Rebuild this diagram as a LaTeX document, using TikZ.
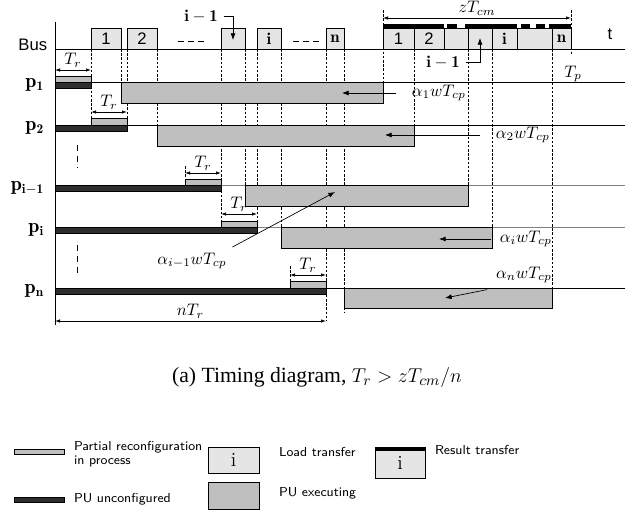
\documentclass[tikz,border=0pt]{standalone}
\usepackage{fontspec}
\newfontfamily\helv{Liberation Sans}
\newfontfamily\tms{Liberation Serif}
\usetikzlibrary{arrows.meta}
\definecolor{busgray}{gray}{0.9}
\definecolor{exegray}{gray}{0.75}
\definecolor{unconf}{gray}{0.18}
\begin{document}
\begin{tikzpicture}[x=0.6pt,y=-0.6pt,>={Latex[length=4pt,width=3pt]},
  busbox/.style={draw,fill=busgray},
  exebox/.style={draw,fill=exegray},
  partbox/.style={draw,fill=exegray},
  offbar/.style={draw,fill=unconf},
  guide/.style={dash pattern=on 1.5pt off 1pt},
  dim/.style={<->,>={Latex[length=3pt,width=2pt]}},
  plbl/.style={anchor=base east,font=\large},
  lbl/.style={font=\fontsize{7.8}{8.6}\selectfont\sffamily,align=left,anchor=west,inner sep=1pt}]
\useasboundingbox (0,0) rectangle (640,516);
\draw[guide] (91,49) -- (91,118);
\draw[guide] (121,49) -- (121,82);
\draw[guide] (127,49) -- (127,118);
\draw[guide] (157,49) -- (157,125);
\draw[guide] (221,49) -- (221,221);
\draw[guide] (245,49) -- (245,185);
\draw[guide] (257,49) -- (257,221);
\draw[guide] (281,49) -- (281,227);
\draw[guide] (326,49) -- (326,321);
\draw[guide] (344,49) -- (344,312);
\draw[guide] (185,166) -- (185,179);
\draw[guide] (290,266) -- (290,281);
\draw[guide] (383,10) -- (383,82);
\draw[guide] (414,49) -- (414,125);
\draw[guide] (468,49) -- (468,185);
\draw[guide] (492,49) -- (492,227);
\draw[guide] (552,49) -- (552,288);
\draw[guide] (571,10) -- (571,55);
\draw (55,22) -- (55,325);
\draw (55,49) -- (625,49);
\node[anchor=east] (bus) at (53,45) {\helv Bus};
\node (tlbl) at (610,34) {\helv t};
\draw[busbox] (91,28) rectangle (121,49) node[midway] (ld1) {\helv 1};
\draw[busbox] (127,28) rectangle (157,49) node[midway] (ld2) {\helv 2};
\draw[dash pattern=on 3.6pt off 2.4pt] (178,41) -- (204,41);
\draw[busbox] (221,28) rectangle (245,49);
\draw[busbox] (257,28) rectangle (281,49) node[midway] (ldi) {$\mathbf{i}$};
\draw[dash pattern=on 3.6pt off 2.4pt] (293,41) -- (319,41);
\draw[busbox] (326,28) rectangle (344,49) node[midway] (ldn) {$\mathbf{n}$};
\draw[busbox] (383,28) rectangle (414,49) node[midway] (rs1) {\helv 1};
\draw[busbox] (414,28) rectangle (444,49) node[midway] (rs2) {\helv 2};
\draw[busbox] (444,28) rectangle (468,49);
\draw[busbox] (468,28) rectangle (492,49);
\draw[busbox] (492,28) rectangle (517,49) node[midway] (rsi) {$\mathbf{i}$};
\draw[busbox] (517,28) rectangle (552,49);
\draw[busbox] (552,28) rectangle (571,49) node[midway] (rsn) {$\mathbf{n}$};
\fill (383,24) rectangle (444,28);
\fill (447,24) rectangle (457,28);
\fill (465,24) rectangle (517,28);
\fill (521,24) rectangle (530,28);
\fill (536,24) rectangle (545,28);
\fill (549,24) rectangle (571,28);
\node (topim1) at (201,16) {$\mathbf{i-1}$};
\draw[->] (topim1.east) -| (233,40);
\node (botim1) at (443,62) {$\mathbf{i-1}$};
\draw[->] (botim1.east) -| (480,38);
\draw[dim] (383,18) -- (571,18) node[midway,above=-2pt] (zt) {$zT_{cm}$};
\node (tp) at (573,74) {$T_p$};
\draw (55,82) -- (625,82);
\draw (55,125) -- (625,125);
\draw[gray] (55,185) -- (625,185);
\draw[gray] (55,227) -- (625,227);
\draw (55,288) -- (625,288);
\node[plbl] (p1) at (50,87) {$\mathbf{p_1}$};
\node[plbl] (p2) at (50,130) {$\mathbf{p_2}$};
\node[plbl] (pim1) at (50,190) {$\mathbf{p_{i-1}}$};
\node[plbl] (pi) at (50,232) {$\mathbf{p_i}$};
\node[plbl] (pn) at (50,293) {$\mathbf{p_n}$};
\draw[partbox] (55,76) rectangle (91,82);
\draw[offbar] (55,82) rectangle (91,88);
\draw[exebox] (121,82) rectangle (383,103);
\draw[dim] (55,70) -- (91,70) node[midway,above=-2pt] (tr1) {$T_r$};
\draw[partbox] (91,118) rectangle (127,125);
\draw[offbar] (55,125) rectangle (127,131);
\draw[exebox] (157,125) rectangle (414,146);
\draw[dim] (91,112) -- (127,112) node[midway,above=-2pt] (tr2) {$T_r$};
\draw[partbox] (185,179) rectangle (221,185);
\draw[offbar] (55,185) rectangle (221,191);
\draw[exebox] (245,185) rectangle (468,206);
\draw[dim] (185,173) -- (221,173) node[midway,above=-2pt] (trim1) {$T_r$};
\draw[partbox] (221,221) rectangle (257,227);
\draw[offbar] (55,227) rectangle (257,233);
\draw[exebox] (281,227) rectangle (492,248);
\draw[dim] (221,214) -- (257,214) node[midway,above=-2pt] (tri) {$T_r$};
\draw[partbox] (290,281) rectangle (326,288);
\draw[offbar] (55,288) rectangle (326,294);
\draw[exebox] (344,288) rectangle (552,308);
\draw[dim] (290,275) -- (326,275) node[midway,above=-2pt] (trn) {$T_r$};
\draw[dash pattern=on 3.5pt off 3pt] (77,145) -- (77,167);
\draw[dash pattern=on 3.5pt off 3pt] (77,245) -- (77,273);
\draw[dim] (55,321) -- (326,321) node[midway,above=-2pt] (ntr) {$nT_r$};
\node[anchor=west] (a1) at (406,93) {$\alpha_1wT_{cp}$};
\coordinate (a1tip) at (342,93);
\draw[->,shorten <=6pt] (a1.west) -- (a1tip);
\node[anchor=west] (a2) at (490,135) {$\alpha_2wT_{cp}$};
\coordinate (a2tip) at (385,135);
\draw[->,shorten <=6pt] (a2.west) -- (a2tip);
\node (aim1) at (192,261) {$\alpha_{i-1}wT_{cp}$};
\coordinate (aim1tip) at (335,192);
\draw[->] (aim1.north east) -- (aim1tip);
\node[anchor=west] (ai) at (494,239) {$\alpha_iwT_{cp}$};
\coordinate (aitip) at (439,239);
\draw[->,shorten <=2pt] (ai.west) -- (aitip);
\node (an) at (524,275) {$\alpha_nwT_{cp}$};
\coordinate (antip) at (445,298);
\draw[->,shorten <=2pt] (an.south west) -- (antip);
\node[font=\fontsize{13}{15}\selectfont] (cap) at (317,377) {\tms (a) Timing diagram, $T_r > zT_{cm}/n$};
\draw[partbox] (14,449) rectangle (64,454);
\node[lbl] (lgpart) at (72,454) {Partial reconfiguration\\in process};
\draw[offbar] (14,497) rectangle (64,502);
\node[lbl] (lgoff) at (72,499) {PU unconfigured};
\draw[busbox] (208,447) rectangle (259,473) node[midway] (lgi) {\large i};
\node[lbl] (lgload) at (277,452) {Load transfer};
\draw[exebox] (208,482) rectangle (259,509);
\node[lbl] (lgexe) at (277,493) {PU executing};
\draw[busbox] (375,447) rectangle (425,478) node[midway] (lgr) {\large i};
\fill (375,447) rectangle (425,451);
\node[lbl] (lgres) at (433,450) {Result transfer};
\end{tikzpicture}
\end{document}
